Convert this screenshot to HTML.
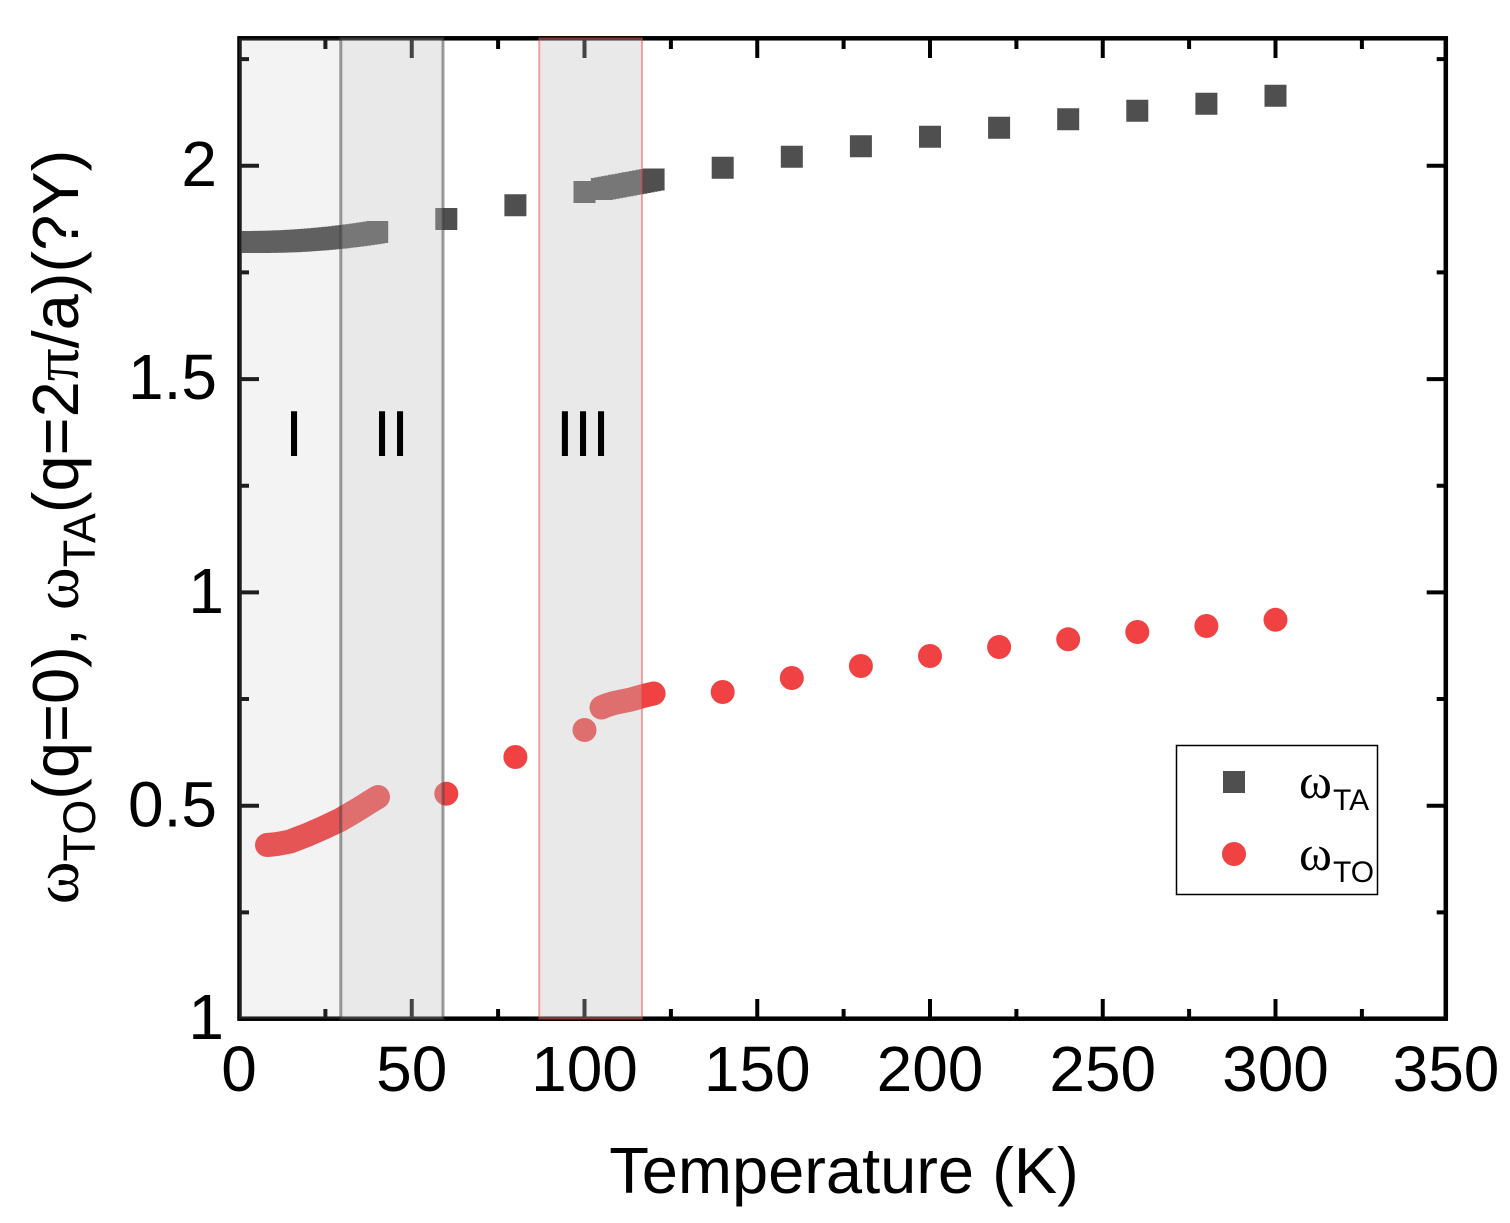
<!DOCTYPE html>
<html>
<head>
<meta charset="utf-8">
<style>
  html,body{margin:0;padding:0;background:#fff;}
  svg{display:block;}
  text{font-family:"Liberation Sans", Arial, sans-serif; fill:#000;}
  .serif{font-family:"Liberation Serif", "DejaVu Serif", serif;}
</style>
</head>
<body>
<svg width="1510" height="1223" viewBox="0 0 1510 1223" xmlns="http://www.w3.org/2000/svg">
  <rect x="0" y="0" width="1510" height="1223" fill="#fff"/>

  <!-- TA data (squares) -->
  <path fill="#4f4f4f" d="
    M241.8 231h22v22h-22z M245.3 231h22v22h-22z M248.7 231h22v22h-22z M252.2 230.9h22v22h-22z
    M255.6 230.9h22v22h-22z M259.1 230.8h22v22h-22z M262.6 230.7h22v22h-22z M266 230.6h22v22h-22z
    M269.5 230.5h22v22h-22z M272.9 230.4h22v22h-22z M276.4 230.2h22v22h-22z M279.9 230.1h22v22h-22z
    M283.3 229.9h22v22h-22z M286.8 229.7h22v22h-22z M290.2 229.5h22v22h-22z M293.7 229.3h22v22h-22z
    M297.1 229h22v22h-22z M300.6 228.8h22v22h-22z M304.1 228.5h22v22h-22z M307.5 228.2h22v22h-22z
    M311 227.9h22v22h-22z M314.4 227.6h22v22h-22z M317.9 227.3h22v22h-22z M321.3 226.9h22v22h-22z
    M324.8 226.6h22v22h-22z M328.2 226.2h22v22h-22z M331.7 225.8h22v22h-22z M335.2 225.4h22v22h-22z
    M338.6 225h22v22h-22z M342.1 224.5h22v22h-22z M345.5 224.1h22v22h-22z M349 223.6h22v22h-22z
    M352.5 223.1h22v22h-22z M355.8 222.6h22v22h-22z M359.3 222.1h22v22h-22z M362.7 221.6h22v22h-22z
    M366.2 221h22v22h-22z
    M435.3 208h22v22h-22z
    M504.4 194.3h22v22h-22z
    M573.5 181h22v22h-22z
    M590.8 178h22v22h-22z M594.2 177.4h22v22h-22z M597.7 176.7h22v22h-22z M601.1 176.1h22v22h-22z
    M604.6 175.5h22v22h-22z M608.1 174.8h22v22h-22z M611.5 174.2h22v22h-22z M615 173.6h22v22h-22z
    M618.4 172.9h22v22h-22z M621.9 172.3h22v22h-22z M625.3 171.7h22v22h-22z M628.8 171h22v22h-22z
    M632.2 170.4h22v22h-22z M635.7 169.8h22v22h-22z M639.1 169.1h22v22h-22z M642.6 168.5h22v22h-22z
    M711.7 156.8h22v22h-22z
    M780.8 145.8h22v22h-22z
    M849.9 135.3h22v22h-22z
    M919 125.8h22v22h-22z
    M988.1 116.8h22v22h-22z
    M1057.2 108.3h22v22h-22z
    M1126.3 99.8h22v22h-22z
    M1195.4 92.8h22v22h-22z
    M1264.5 84.8h22v22h-22z"/>

  <!-- TO data (circles) -->
  <g fill="#f04242" stroke="none">
    <polyline points="267,845 273,844.5 280,843.5 290,841.5 307,835 323,828 340,820 357,810 373,800 378,797"
      fill="none" stroke="#f04242" stroke-width="24" stroke-linecap="round" stroke-linejoin="round"/>
    <circle cx="446.3" cy="793.7" r="12"/>
    <circle cx="515.4" cy="757" r="12"/>
    <circle cx="584.5" cy="730" r="12"/>
    <polyline points="601.5,707.5 606,705.5 614,703 631,699.5 643,696 653.6,693.5"
      fill="none" stroke="#f04242" stroke-width="24" stroke-linecap="round" stroke-linejoin="round"/>
    <circle cx="722.7" cy="692" r="12"/>
    <circle cx="791.8" cy="678" r="12"/>
    <circle cx="860.9" cy="666" r="12"/>
    <circle cx="930" cy="656" r="12"/>
    <circle cx="999.1" cy="647" r="12"/>
    <circle cx="1068.2" cy="639.3" r="12"/>
    <circle cx="1137.3" cy="632" r="12"/>
    <circle cx="1206.4" cy="626" r="12"/>
    <circle cx="1275.5" cy="619.8" r="12"/>
  </g>

  <!-- Axes frame -->
  <rect x="239.5" y="38.3" width="1206.3" height="980.4" fill="none" stroke="#000" stroke-width="4.5"/>

  <!-- Ticks -->
  <g stroke="#000" stroke-width="4" fill="none">
    <path d="M411.75 1018.7V999 M584.5 1018.7V999 M757.25 1018.7V999 M930 1018.7V999 M1102.75 1018.7V999 M1275.5 1018.7V999"/>
    <path d="M325.4 1018.7V1009 M498.1 1018.7V1009 M670.9 1018.7V1009 M843.6 1018.7V1009 M1016.4 1018.7V1009 M1189.1 1018.7V1009 M1361.9 1018.7V1009"/>
    <path d="M411.75 38.3V58 M584.5 38.3V58 M757.25 38.3V58 M930 38.3V58 M1102.75 38.3V58 M1275.5 38.3V58"/>
    <path d="M325.4 38.3V49 M498.1 38.3V49 M670.9 38.3V49 M843.6 38.3V49 M1016.4 38.3V49 M1189.1 38.3V49 M1361.9 38.3V49"/>
    <path d="M239.5 805.7H259 M239.5 592.4H259 M239.5 379.1H259 M239.5 165.8H259"/>
    <path d="M239.5 912.4H249 M239.5 699H249 M239.5 485.7H249 M239.5 272.4H249 M239.5 59.1H249"/>
    <path d="M1445.8 805.7H1426.7 M1445.8 592.4H1426.7 M1445.8 379.1H1426.7 M1445.8 165.8H1426.7"/>
    <path d="M1445.8 912.4H1436.7 M1445.8 699H1436.7 M1445.8 485.7H1436.7 M1445.8 272.4H1436.7 M1445.8 59.1H1436.7"/>
  </g>

  <!-- Band overlays -->
  <rect x="239" y="38.3" width="101.8" height="980.4" fill="rgba(182,182,182,0.165)"/>
  <rect x="340.8" y="38.3" width="102.2" height="980.4" fill="rgba(193,193,193,0.352)" stroke="rgba(60,60,60,0.5)" stroke-width="3"/>
  <rect x="539.2" y="38.3" width="102.8" height="980.4" fill="rgba(193,193,193,0.352)" stroke="rgba(240,60,60,0.45)" stroke-width="2"/>

  <!-- Region labels -->
  <g font-size="65" text-anchor="middle">
    <text x="294" y="456">I</text>
    <text x="391" y="456">II</text>
    <text x="583" y="456">III</text>
  </g>

  <!-- X tick labels -->
  <g font-size="64" text-anchor="middle">
    <text x="239" y="1091">0</text>
    <text x="411.75" y="1091">50</text>
    <text x="584.5" y="1091">100</text>
    <text x="757.25" y="1091">150</text>
    <text x="930" y="1091">200</text>
    <text x="1102.75" y="1091">250</text>
    <text x="1275.5" y="1091">300</text>
    <text x="1446" y="1091">350</text>
  </g>

  <!-- Y tick labels -->
  <g font-size="64" text-anchor="end">
    <text x="224" y="1039">1</text>
    <text x="217" y="826.5">0.5</text>
    <text x="224" y="613">1</text>
    <text x="217" y="399">1.5</text>
    <text x="217" y="186">2</text>
  </g>

  <!-- X axis title -->
  <text x="844" y="1193" font-size="65" text-anchor="middle">Temperature (K)</text>

  <!-- Y axis title -->
  <text transform="translate(78,527) rotate(-90)" text-anchor="middle" font-size="65"><tspan class="serif">ω</tspan><tspan font-size="45" dy="17">TO</tspan><tspan dy="-17">(q=0), </tspan><tspan class="serif">ω</tspan><tspan font-size="45" dy="17">TA</tspan><tspan dy="-17">(q=2</tspan><tspan class="serif">π</tspan><tspan>/a)(?Y)</tspan></text>

  <!-- Legend -->
  <rect x="1176.5" y="745.5" width="201" height="149" fill="#fff" stroke="#000" stroke-width="1.5"/>
  <rect x="1223" y="771" width="22" height="22" fill="#4f4f4f"/>
  <circle cx="1234" cy="854" r="12" fill="#f04242"/>
  <text x="1299" y="798" font-size="50" class="serif">ω</text>
  <text x="1333" y="810" font-size="30">TA</text>
  <text x="1299" y="870" font-size="50" class="serif">ω</text>
  <text x="1333" y="882" font-size="30">TO</text>
</svg>
</body>
</html>
